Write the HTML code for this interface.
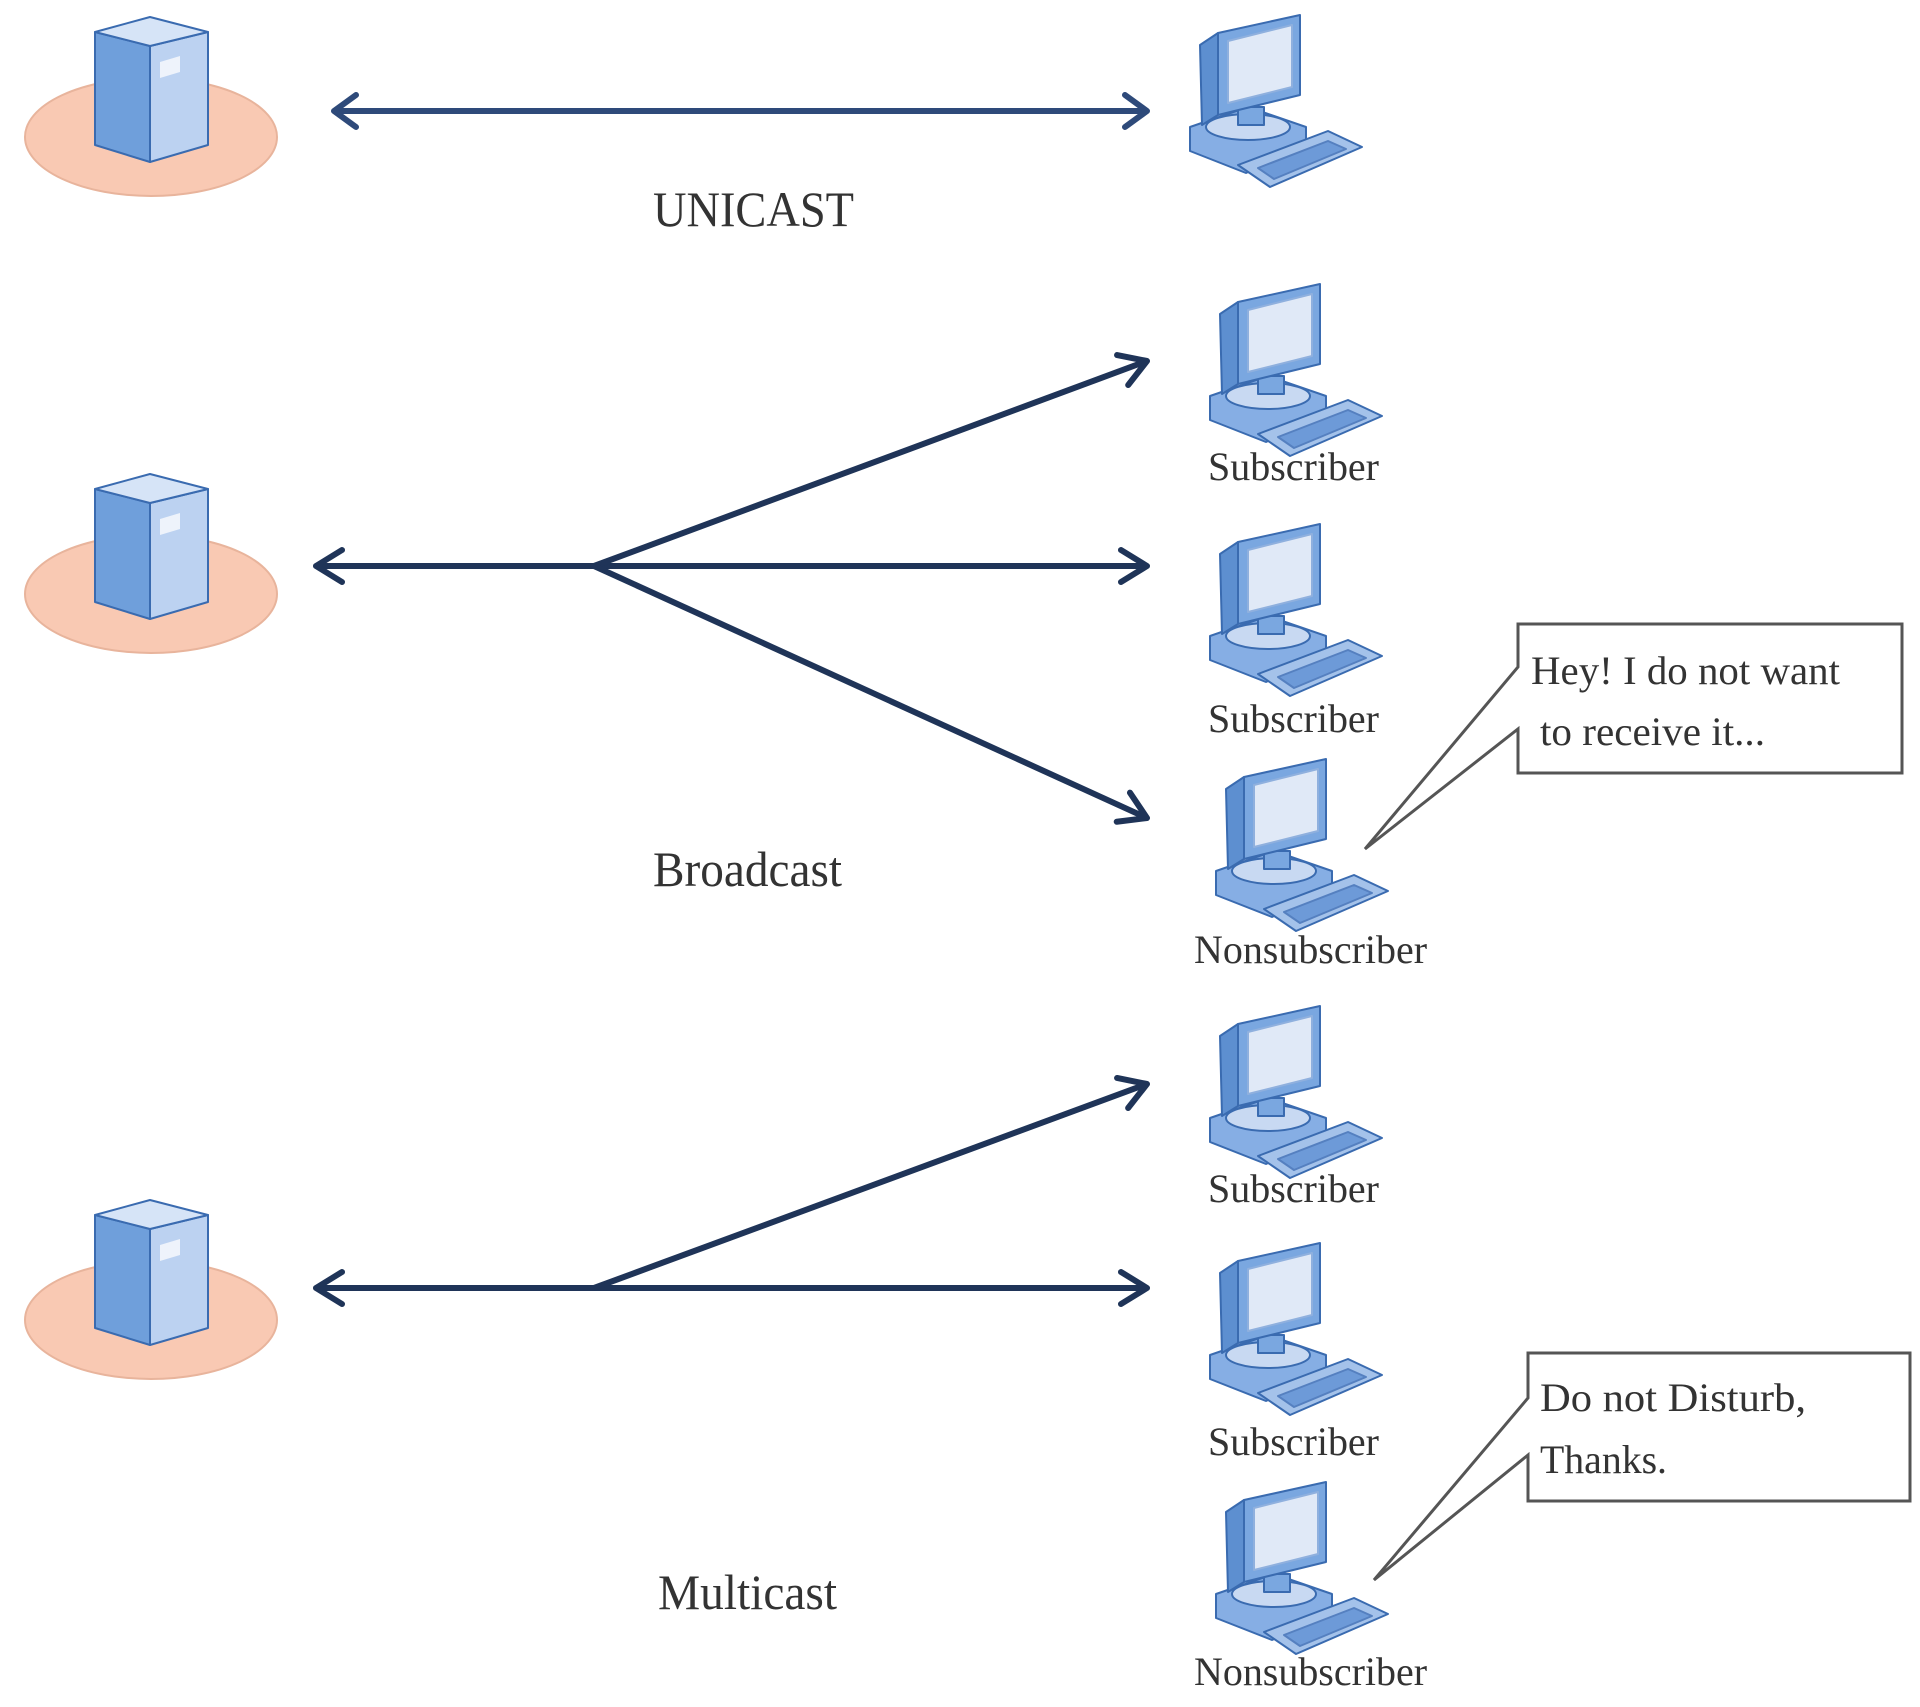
<!DOCTYPE html>
<html><head><meta charset="utf-8"><style>
html,body{margin:0;padding:0;background:#fff;}
svg{display:block}
text{font-family:"Liberation Serif",serif;fill:#333;}
</style></head><body>
<svg width="1920" height="1707" viewBox="0 0 1920 1707" xmlns="http://www.w3.org/2000/svg">
<defs>
<g id="pc" stroke="#3a6bb0" stroke-width="2" stroke-linejoin="round">
  <polygon points="2,112 60,92 118,112 118,132 58,158 2,136" fill="#86aee4"/>
  <ellipse cx="60" cy="112" rx="42" ry="13" fill="#c8d9f2"/>
  <rect x="50" y="92" width="26" height="18" fill="#7aa7e0"/>
  <polygon points="12,30 30,18 30,100 14,110" fill="#5d8fd0"/>
  <polygon points="30,18 112,0 112,80 30,100" fill="#7aa7e0"/>
  <polygon points="40,26 104,10 104,72 40,88" fill="#e0e9f7" stroke="#8fb0de"/>
  <polygon points="50,150 140,116 174,132 82,172" fill="#a4c2ea"/>
  <polygon points="70,153 140,126 158,134 86,164" fill="#6d9ad8" stroke="#5580c0"/>
</g>
<g id="srv" stroke="#3a6bb0" stroke-width="2" stroke-linejoin="round">
  <ellipse cx="151" cy="137" rx="126" ry="59" fill="#f9c9b3" stroke="#e8b49c"/>
  <polygon points="95,32 150,46 150,162 95,145" fill="#6f9fdb"/>
  <polygon points="150,46 208,32 208,145 150,162" fill="#bcd2f1"/>
  <polygon points="95,32 150,17 208,32 150,46" fill="#d6e4f7"/>
  <polygon points="160,62 180,56 180,72 160,78" fill="#eef3fb" stroke="none"/>
</g>
<marker id="ah" viewBox="0 0 40 40" refX="36" refY="20" markerWidth="40" markerHeight="40" markerUnits="userSpaceOnUse" orient="auto-start-reverse">
  <path d="M10,4 L36,20 L10,36" fill="none" stroke="#1f3458" stroke-width="6" stroke-linecap="round" stroke-linejoin="round"/>
</marker>
<marker id="ah2" viewBox="0 0 40 40" refX="36" refY="20" markerWidth="40" markerHeight="40" markerUnits="userSpaceOnUse" orient="auto-start-reverse">
  <path d="M14,4 L36,20 L14,36" fill="none" stroke="#2e4a7a" stroke-width="6" stroke-linecap="round" stroke-linejoin="round"/>
</marker>
</defs>

<!-- Row 1 -->
<use href="#srv"/>
<line x1="334" y1="111" x2="1147" y2="111" stroke="#2e4a7a" stroke-width="6" marker-start="url(#ah2)" marker-end="url(#ah2)"/>
<use href="#pc" x="1188" y="15"/>
<text x="653" y="226" font-size="50" textLength="201" lengthAdjust="spacingAndGlyphs">UNICAST</text>

<!-- Row 2 -->
<use href="#srv" y="457"/>
<g stroke="#1f3458" stroke-width="6" fill="none">
<line x1="316" y1="566" x2="594" y2="566" marker-start="url(#ah)"/>
<line x1="594" y1="566" x2="1147" y2="566" marker-end="url(#ah)"/>
<line x1="594" y1="566" x2="1147" y2="361" marker-end="url(#ah)"/>
<line x1="594" y1="566" x2="1147" y2="818" marker-end="url(#ah)"/>
</g>
<use href="#pc" x="1208" y="284"/>
<use href="#pc" x="1208" y="524"/>
<use href="#pc" x="1214" y="759"/>
<g font-size="40">
<text x="1208" y="480" textLength="171" lengthAdjust="spacingAndGlyphs">Subscriber</text>
<text x="1208" y="732" textLength="171" lengthAdjust="spacingAndGlyphs">Subscriber</text>
<text x="1194" y="963" textLength="233" lengthAdjust="spacingAndGlyphs">Nonsubscriber</text>
</g>
<text x="653" y="886" font-size="50" textLength="189" lengthAdjust="spacingAndGlyphs">Broadcast</text>
<path d="M1518,667 L1518,624 L1902,624 L1902,773 L1518,773 L1518,729 L1365,849 Z" fill="#fff" stroke="#555" stroke-width="3"/>
<text x="1531" y="684" font-size="40" textLength="309" lengthAdjust="spacingAndGlyphs">Hey! I do not want</text>
<text x="1540" y="745" font-size="40" textLength="225" lengthAdjust="spacingAndGlyphs">to receive it...</text>

<!-- Row 3 -->
<use href="#srv" y="1183"/>
<g stroke="#1f3458" stroke-width="6" fill="none">
<line x1="316" y1="1288" x2="594" y2="1288" marker-start="url(#ah)"/>
<line x1="594" y1="1288" x2="1147" y2="1288" marker-end="url(#ah)"/>
<line x1="594" y1="1288" x2="1147" y2="1084" marker-end="url(#ah)"/>
</g>
<use href="#pc" x="1208" y="1006"/>
<use href="#pc" x="1208" y="1243"/>
<use href="#pc" x="1214" y="1482"/>
<g font-size="40">
<text x="1208" y="1202" textLength="171" lengthAdjust="spacingAndGlyphs">Subscriber</text>
<text x="1208" y="1455" textLength="171" lengthAdjust="spacingAndGlyphs">Subscriber</text>
<text x="1194" y="1685" textLength="233" lengthAdjust="spacingAndGlyphs">Nonsubscriber</text>
</g>
<text x="658" y="1609" font-size="50" textLength="179" lengthAdjust="spacingAndGlyphs">Multicast</text>
<path d="M1528,1398 L1528,1353 L1910,1353 L1910,1501 L1528,1501 L1528,1455 L1374,1580 Z" fill="#fff" stroke="#555" stroke-width="3"/>
<text x="1540" y="1411" font-size="40" textLength="266" lengthAdjust="spacingAndGlyphs">Do not  Disturb,</text>
<text x="1540" y="1473" font-size="40" textLength="127" lengthAdjust="spacingAndGlyphs">Thanks.</text>
</svg>
</body></html>
